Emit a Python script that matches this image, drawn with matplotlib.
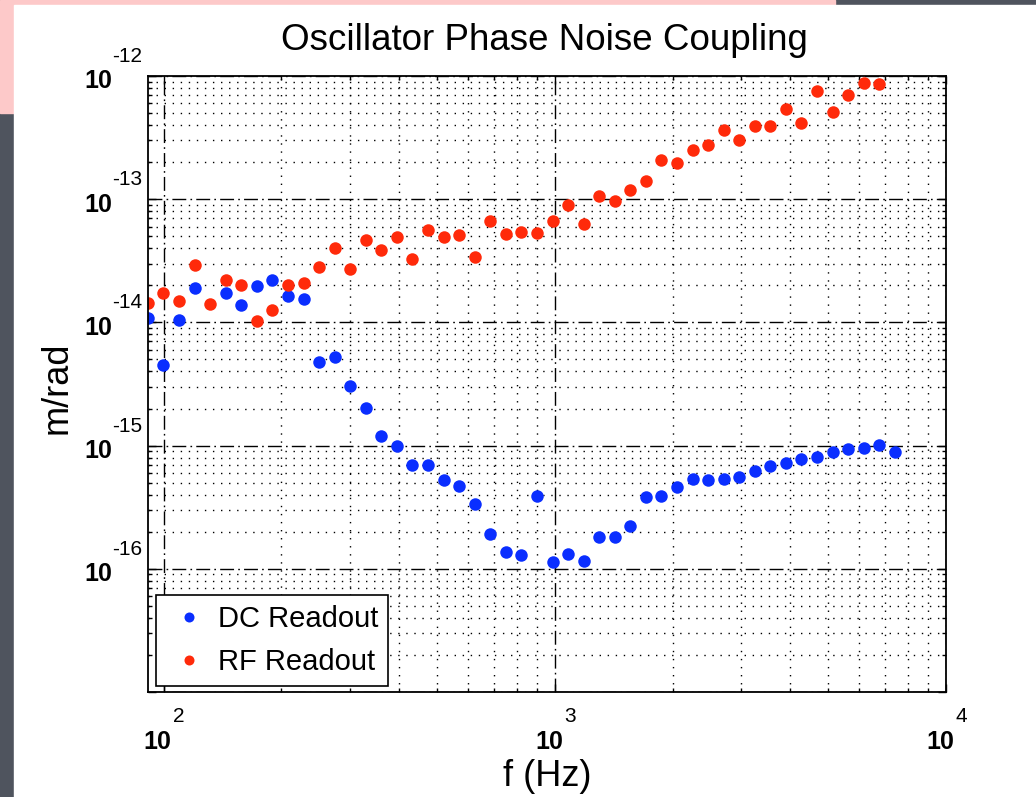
import numpy as np
import matplotlib
matplotlib.use('Agg')
import matplotlib.pyplot as plt
import matplotlib.transforms as mtransforms
from matplotlib.patches import Rectangle
from matplotlib.ticker import LogLocator, NullFormatter

# Frequencies (Hz)
freq = [91.2, 99.9, 109.5, 120.0, 131.5, 144.1, 157.9, 173.1, 189.7, 207.9,
        227.9, 249.7, 273.7, 299.9, 328.7, 360.2, 394.8, 432.6, 474.1, 519.6,
        569.4, 624.1, 683.9, 749.5, 821.4, 900.2, 986.5, 1081, 1185, 1299,
        1423, 1560, 1710, 1873, 2053, 2250, 2466, 2702, 2961, 3245,
        3556, 3897, 4271, 4681, 5130, 5622, 6161, 6752, 7399]

# coupling (m/rad), DC readout
dc_readout = [1.09e-14, 4.51e-15, 1.05e-14, 1.91e-14, np.nan, 1.72e-14, 1.38e-14, 1.97e-14, 2.21e-14, 1.64e-14,
              1.56e-14, 4.74e-15, 5.21e-15, 3.06e-15, 2.02e-15, 1.20e-15, 9.87e-16, 6.97e-16, 6.97e-16, 5.26e-16,
              4.73e-16, 3.36e-16, 1.91e-16, 1.36e-16, 1.29e-16, 3.90e-16, 1.13e-16, 1.31e-16, 1.16e-16, 1.80e-16,
              1.80e-16, 2.21e-16, 3.83e-16, 3.92e-16, 4.59e-16, 5.32e-16, 5.28e-16, 5.32e-16, 5.60e-16, 6.25e-16,
              6.87e-16, 7.18e-16, 7.78e-16, 8.13e-16, 8.87e-16, 9.33e-16, 9.62e-16, 1.01e-15, 8.93e-16]

# coupling (m/rad), RF readout
rf_readout = [1.43e-14, 1.72e-14, 1.49e-14, 2.92e-14, 1.41e-14, 2.20e-14, 2.02e-14, 1.02e-14, 1.25e-14, 2.02e-14,
              2.08e-14, 2.81e-14, 3.98e-14, 2.70e-14, 4.67e-14, 3.89e-14, 4.97e-14, 3.27e-14, 5.62e-14, 4.93e-14,
              5.09e-14, 3.40e-14, 6.65e-14, 5.22e-14, 5.45e-14, 5.35e-14, 6.65e-14, 8.97e-14, 6.25e-14, 1.057e-13,
              9.61e-14, 1.19e-13, 1.41e-13, 2.08e-13, 1.98e-13, 2.49e-13, 2.77e-13, 3.66e-13, 3.04e-13, 3.93e-13,
              3.93e-13, 5.37e-13, 4.18e-13, 7.55e-13, 5.07e-13, 6.97e-13, 8.77e-13, 8.57e-13, np.nan]

x_label_decades = [2, 3, 4]
y_label_decades = [-16, -15, -14, -13, -12]

W, H = 1036, 797
fig = plt.figure(figsize=(W / 100, H / 100), dpi=100, facecolor='#4f545e')
# slide background pieces
fig.patches.append(Rectangle((0, 1 - 113 / H), 835 / W, 113 / H, transform=fig.transFigure,
                             color='#fdc9c9', zorder=-2))
fig.patches.append(Rectangle((14 / W, 0), 1 - 14 / W, 1 - 5 / H, transform=fig.transFigure,
                             color='white', zorder=-1))

ax = fig.add_axes([148 / W, 1 - 692 / H, (946 - 148) / W, (692 - 76) / H])

blue = '#0a2eff'
red = '#ff2a0a'
ax.loglog(freq, dc_readout, 'o', color=blue, ms=9, mec='none', label='DC Readout')
ax.loglog(freq, rf_readout, 'o', color=red, ms=9, mec='none', label='RF Readout')

ax.set_xlim(freq[0], 1e4)
ax.set_ylim(1e-17, 1e-12)
ax.xaxis.set_major_locator(LogLocator(base=10, numticks=10))
ax.yaxis.set_major_locator(LogLocator(base=10, numticks=10))
ax.xaxis.set_minor_locator(LogLocator(base=10, subs=np.arange(2, 10), numticks=20))
ax.yaxis.set_minor_locator(LogLocator(base=10, subs=np.arange(2, 10), numticks=20))
ax.xaxis.set_major_formatter(NullFormatter())
ax.yaxis.set_major_formatter(NullFormatter())
ax.xaxis.set_minor_formatter(NullFormatter())
ax.yaxis.set_minor_formatter(NullFormatter())

ax.tick_params(which='both', direction='in', top=True, right=True, width=1.0, color='k')
ax.tick_params(which='major', length=6)
ax.tick_params(which='minor', length=3)
for s in ax.spines.values():
    s.set_linewidth(1.3)

ax.grid(which='major', color='k', lw=1.0, linestyle=(0, (10, 3, 1.2, 3)))
ax.grid(which='minor', color='k', lw=1.0, linestyle=(0, (1, 4.8)))

# MATLAB style tick labels: bold "10" with a raised exponent
def px(dx, dy):
    return mtransforms.ScaledTranslation(dx / 100, dy / 100, fig.dpi_scale_trans)

ytrans = mtransforms.blended_transform_factory(ax.transAxes, ax.transData)
for e in y_label_decades:
    ax.text(0, 10.0 ** e, '10', transform=ytrans + px(-36, -12.5), ha='right', va='baseline',
            fontsize=18, fontweight='bold', family='Liberation Sans')
    ax.text(0, 10.0 ** e, str(e), transform=ytrans + px(-6, 14), ha='right', va='baseline',
            fontsize=15, family='Liberation Sans')

xtrans = mtransforms.blended_transform_factory(ax.transData, ax.transAxes)
for e in x_label_decades:
    ax.text(10.0 ** e, 0, '10', transform=xtrans + px(8, -57), ha='right', va='baseline',
            fontsize=18, fontweight='bold', family='Liberation Sans', clip_on=False)
    ax.text(10.0 ** e, 0, str(e), transform=xtrans + px(9.5, -30), ha='left', va='baseline',
            fontsize=15, family='Liberation Sans', clip_on=False)

fig.text(544 / W, 1 - 40 / H, 'Oscillator Phase Noise Coupling', ha='center', va='center',
         fontsize=26.5, family='Liberation Sans')
fig.text(547 / W, 1 - 777 / H, 'f (Hz)', ha='center', va='center', fontsize=26, family='Liberation Sans')
fig.text(57 / W, 1 - 388 / H, 'm/rad', ha='center', va='center', rotation=90, fontsize=26,
         family='Liberation Sans')

leg = ax.legend(loc='lower left', bbox_to_anchor=(8 / 798, 6 / 616), borderaxespad=0,
                prop={'family': 'Liberation Sans', 'size': 21}, fancybox=False, framealpha=1,
                edgecolor='k', borderpad=0.33, handlelength=1.6, handletextpad=0.18,
                labelspacing=0.53, markerscale=0.8)
leg.get_frame().set_linewidth(1.2)

fig.savefig('out.png', dpi=100, facecolor=fig.get_facecolor())
